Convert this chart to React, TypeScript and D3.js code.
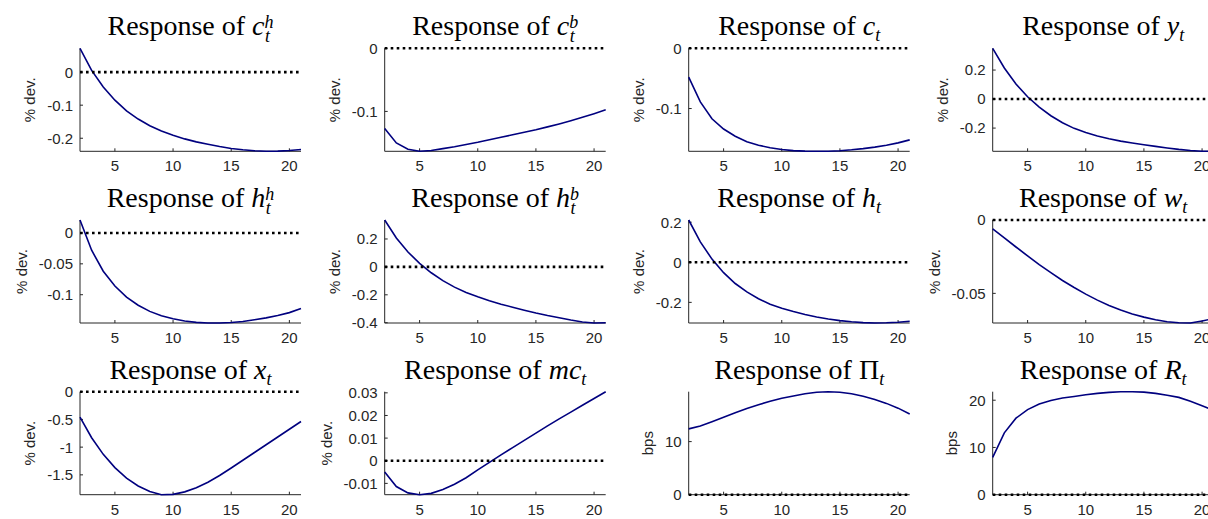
import React from 'react';
import * as d3 from 'd3';

// horizon (quarters)
const periods = [2, 3, 4, 5, 6, 7, 8, 9, 10, 11, 12, 13, 14, 15, 16, 17, 18, 19, 20, 21];
const xTicks = [5, 10, 15, 20];

// impulse responses
const respCh = [0.072, 0.005, -0.045, -0.085, -0.117, -0.142, -0.162, -0.178, -0.191, -0.202, -0.211, -0.218, -0.225, -0.231, -0.235, -0.238, -0.2395, -0.239, -0.237, -0.234];
const respCb = [-0.127, -0.150, -0.160, -0.1632, -0.162, -0.159, -0.156, -0.1525, -0.149, -0.145, -0.141, -0.137, -0.133, -0.129, -0.1245, -0.1198, -0.1148, -0.1094, -0.1036, -0.0975];
const respC = [-0.048, -0.089, -0.117, -0.134, -0.146, -0.155, -0.161, -0.165, -0.168, -0.1698, -0.1707, -0.171, -0.1708, -0.17, -0.1685, -0.1665, -0.164, -0.161, -0.157, -0.152];
const respY = [0.35, 0.214, 0.104, 0.016, -0.056, -0.115, -0.163, -0.202, -0.23, -0.254, -0.274, -0.29, -0.303, -0.315, -0.326, -0.337, -0.347, -0.355, -0.36, -0.359];
const respHh = [0.021, -0.028, -0.062, -0.086, -0.104, -0.117, -0.127, -0.134, -0.139, -0.1425, -0.1448, -0.1458, -0.1458, -0.145, -0.1433, -0.1405, -0.1375, -0.1338, -0.129, -0.1225];
const respHb = [0.336, 0.207, 0.107, 0.025, -0.042, -0.098, -0.145, -0.183, -0.214, -0.242, -0.267, -0.289, -0.31, -0.33, -0.348, -0.364, -0.381, -0.395, -0.402, -0.4];
const respH = [0.211, 0.102, 0.016, -0.052, -0.106, -0.148, -0.182, -0.209, -0.229, -0.246, -0.261, -0.273, -0.283, -0.291, -0.297, -0.301, -0.303, -0.302, -0.299, -0.294];
const respW = [-0.006, -0.0122, -0.0184, -0.0245, -0.0304, -0.0359, -0.0412, -0.046, -0.0505, -0.0546, -0.0582, -0.0613, -0.064, -0.0662, -0.068, -0.0693, -0.07, -0.0702, -0.0688, -0.0672];
const respX = [-0.46, -0.83, -1.13, -1.37, -1.56, -1.7, -1.8, -1.858, -1.852, -1.807, -1.732, -1.632, -1.512, -1.377, -1.237, -1.097, -0.957, -0.817, -0.677, -0.537];
const respMc = [-0.005, -0.0114, -0.0142, -0.015, -0.0144, -0.0127, -0.0104, -0.0075, -0.004, -0.0007, 0.0026, 0.0058, 0.009, 0.0122, 0.0154, 0.0185, 0.0215, 0.0245, 0.0275, 0.0305];
const respPi = [12.4, 12.95, 13.75, 14.6, 15.45, 16.25, 16.95, 17.6, 18.15, 18.6, 19.0, 19.3, 19.4, 19.3, 19.0, 18.55, 17.95, 17.2, 16.3, 15.2];
const respR = [7.9, 13.1, 16.2, 18.0, 19.2, 19.95, 20.45, 20.8, 21.15, 21.45, 21.65, 21.78, 21.8, 21.7, 21.45, 21.05, 20.6, 19.8, 18.85, 17.85];

// y tick values per panel
const ticksCh = [0, -0.1, -0.2];
const ticksCb = [0, -0.1];
const ticksC = [0, -0.1];
const ticksY = [0.2, 0, -0.2];
const ticksHh = [0, -0.05, -0.1];
const ticksHb = [0.2, 0, -0.2, -0.4];
const ticksH = [0.2, 0, -0.2];
const ticksW = [0, -0.05];
const ticksX = [0, -0.5, -1, -1.5];
const ticksMc = [0.03, 0.02, 0.01, 0, -0.01];
const ticksPi = [0, 10];
const ticksR = [0, 10, 20];

const panels = [
  { sym: 'c', sup: 'h', values: respCh, ticks: ticksCh, unit: '% dev.' },
  { sym: 'c', sup: 'b', values: respCb, ticks: ticksCb, unit: '% dev.' },
  { sym: 'c', values: respC, ticks: ticksC, unit: '% dev.' },
  { sym: 'y', values: respY, ticks: ticksY, unit: '% dev.' },
  { sym: 'h', sup: 'h', values: respHh, ticks: ticksHh, unit: '% dev.' },
  { sym: 'h', sup: 'b', values: respHb, ticks: ticksHb, unit: '% dev.' },
  { sym: 'h', values: respH, ticks: ticksH, unit: '% dev.' },
  { sym: 'w', values: respW, ticks: ticksW, unit: '% dev.' },
  { sym: 'x', values: respX, ticks: ticksX, unit: '% dev.' },
  { sym: 'mc', values: respMc, ticks: ticksMc, unit: '% dev.' },
  { sym: 'Π', upright: true, values: respPi, ticks: ticksPi, unit: 'bps' },
  { sym: 'R', values: respR, ticks: ticksR, unit: 'bps' },
];

const colLeft = [80, 384.7, 688.7, 992.7];
const rowTop = [48.3, 220, 391.7];
const plotW = 221;
const plotH = 103;

const sans = '"Liberation Sans", Arial, sans-serif';
const serif = '"Liberation Serif", "Times New Roman", serif';
const axisColor = '#262626';
const lineColor = '#00007f';
const fs = 15;

// rough Helvetica advance widths, used to place the y label like MATLAB does
const labelWidth = (s: string, size: number) =>
  s.split('').reduce((w, ch) => w + (ch === '-' ? 0.333 : ch === '.' ? 0.278 : 0.556) * size, 0);

function Title({ p, cx, y }: { p: any; cx: number; y: number }) {
  const subSize = 18;
  return (
    <text x={cx} y={y} textAnchor="middle" fontFamily={serif} fontSize={28} fill="#000">
      <tspan>Response of </tspan>
      <tspan fontStyle={p.upright ? 'normal' : 'italic'}>{p.sym}</tspan>
      {p.sup ? (
        <>
          <tspan fontStyle="italic" fontSize={subSize} dy={-7}>{p.sup}</tspan>
          <tspan fontStyle="italic" fontSize={subSize} dx={-8.5} dy={14}>t</tspan>
        </>
      ) : (
        <tspan fontStyle="italic" fontSize={subSize} dy={6}>t</tspan>
      )}
    </text>
  );
}

function Panel({ p, i }: { p: any; i: number }) {
  const left = colLeft[i % 4];
  const top = rowTop[Math.floor(i / 4)];
  const x = d3.scaleLinear().domain([2, 21]).range([left, left + plotW]);
  const ext = d3.extent([...p.values, 0]) as [number, number];
  const y = d3.scaleLinear().domain(ext).range([top + plotH, top]);
  const line = d3.line<number>()
    .x((_, k) => x(periods[k]))
    .y((d) => y(d));
  const bottom = top + plotH;
  const maxW = d3.max(p.ticks.map((t: number) => labelWidth(String(t), fs))) as number;
  const ylabX = left - 7 - maxW - 12;
  return (
    <g>
      <Title p={p} cx={left + plotW / 2} y={top - 13} />
      {/* axes */}
      <line x1={left} x2={left} y1={top} y2={bottom} stroke={axisColor} strokeWidth={1} />
      <line x1={left} x2={left + plotW} y1={bottom} y2={bottom} stroke={axisColor} strokeWidth={1} />
      {xTicks.map((t) => (
        <g key={'x' + t}>
          <line x1={x(t)} x2={x(t)} y1={bottom} y2={bottom - 3} stroke={axisColor} />
          <text x={x(t)} y={bottom + 20} textAnchor="middle" fontFamily={sans} fontSize={fs} fill={axisColor}>{t}</text>
        </g>
      ))}
      {p.ticks.map((t: number) => (
        <g key={'y' + t}>
          <line x1={left} x2={left + 3} y1={y(t)} y2={y(t)} stroke={axisColor} />
          <text x={left - 7} y={y(t)} dy="0.36em" textAnchor="end" fontFamily={sans} fontSize={fs} fill={axisColor}>{String(t)}</text>
        </g>
      ))}
      <text transform={`translate(${ylabX},${top + plotH / 2}) rotate(-90)`} textAnchor="middle" fontFamily={sans} fontSize={fs} fill={axisColor}>{p.unit}</text>
      {/* response */}
      <path d={line(p.values) || ''} fill="none" stroke={lineColor} strokeWidth={1.6} />
      {/* steady state */}
      <line x1={x(2)} x2={x(21)} y1={y(0)} y2={y(0)} stroke="#000" strokeWidth={2.6} strokeDasharray="2.6 3.4" />
    </g>
  );
}

export default function App() {
  return (
    <svg width={1208} height={519} style={{ position: 'absolute', left: 0, top: 0, background: '#fff' }}>
      <rect width={1208} height={519} fill="#fff" />
      {panels.map((p, i) => (
        <Panel key={i} p={p} i={i} />
      ))}
    </svg>
  );
}
